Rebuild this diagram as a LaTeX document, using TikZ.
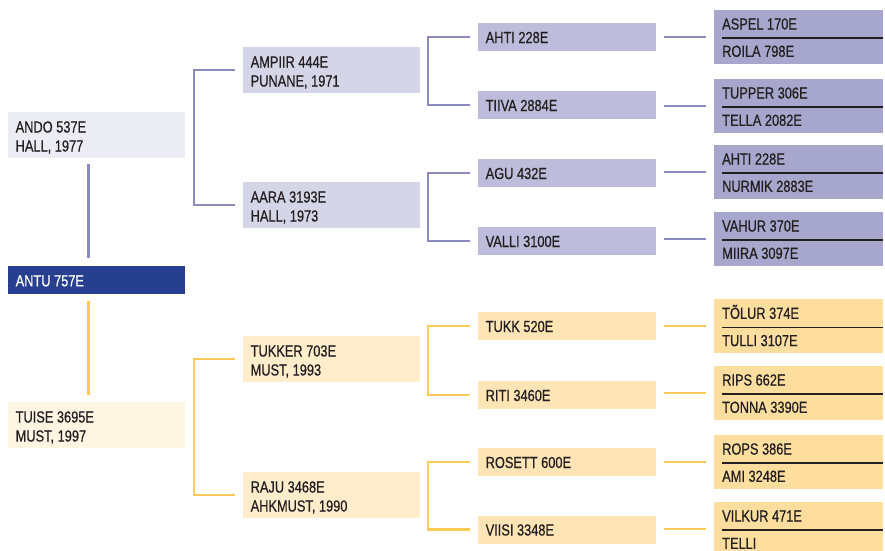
\documentclass[tikz,border=0pt]{standalone}
\usepackage{fontspec}
\setmainfont[FakeStretch=0.8,FakeBold=0.6]{Liberation Sans}
\definecolor{pA}{HTML}{ECECF4}
\definecolor{pB}{HTML}{D5D5E8}
\definecolor{pC}{HTML}{BDBDDB}
\definecolor{pD}{HTML}{A7A7CD}
\definecolor{dkb}{HTML}{263F8E}
\definecolor{pln}{HTML}{8B8BC1}
\definecolor{yA}{HTML}{FFF5E3}
\definecolor{yB}{HTML}{FFEDCC}
\definecolor{yC}{HTML}{FFE5B5}
\definecolor{yD}{HTML}{FDDE9E}
\definecolor{yln}{HTML}{FDCB55}
\definecolor{txc}{HTML}{231F20}
\newcommand\mkbox[6]{\node[bx, fill=#2, minimum width=#5pt, minimum height=#6pt] (#1) at (#3,#4) {};}
\tikzset{
  bx/.style={draw=none, inner sep=0pt, outer sep=0pt, anchor=north west},
  txt/.style={anchor=base west, inner sep=0pt, text=txc, font=\fontsize{16}{19}\selectfont},
  wtxt/.style={txt, text=white},
  pl/.style={draw=pln, line width=2.4pt},
  yl/.style={draw=yln, line width=2.4pt},
  divl/.style={draw=txc, line width=1.2pt}
}
\begin{document}
\begin{tikzpicture}[x=1pt,y=-1pt]
\useasboundingbox (0,0) rectangle (885,550);
\clip (0,0) rectangle (885,550);
% column 1
\mkbox{ando}{pA}{8}{112}{177}{46}
\mkbox{antu}{dkb}{8}{266}{177}{27.5}
\mkbox{tuise}{yA}{8}{402}{177}{46}
\node[txt] (ando1) at ([shift={(7.5,20.5)}]ando.north west) {ANDO 537E};
\node[txt] (ando2) at ([shift={(7.5,39.5)}]ando.north west) {HALL, 1977};
\node[wtxt] (antu1) at ([shift={(7.5,20.3)}]antu.north west) {ANTU 757E};
\node[txt] (tuise1) at ([shift={(7.5,20.5)}]tuise.north west) {TUISE 3695E};
\node[txt] (tuise2) at ([shift={(7.5,39.5)}]tuise.north west) {MUST, 1997};
% column 2
\mkbox{ampiir}{pB}{243}{47}{177}{46}
\mkbox{aara}{pB}{243}{182}{177}{46}
\mkbox{tukker}{yB}{243}{336}{177}{46}
\mkbox{raju}{yB}{243}{472}{177}{46}
\node[txt] (ampiir1) at ([shift={(7.5,20.5)}]ampiir.north west) {AMPIIR 444E};
\node[txt] (ampiir2) at ([shift={(7.5,39.5)}]ampiir.north west) {PUNANE, 1971};
\node[txt] (aara1) at ([shift={(7.5,20.5)}]aara.north west) {AARA 3193E};
\node[txt] (aara2) at ([shift={(7.5,39.5)}]aara.north west) {HALL, 1973};
\node[txt] (tukker1) at ([shift={(7.5,20.5)}]tukker.north west) {TUKKER 703E};
\node[txt] (tukker2) at ([shift={(7.5,39.5)}]tukker.north west) {MUST, 1993};
\node[txt] (raju1) at ([shift={(7.5,20.5)}]raju.north west) {RAJU 3468E};
\node[txt] (raju2) at ([shift={(7.5,39.5)}]raju.north west) {AHKMUST, 1990};
% column 3
\mkbox{ahti}{pC}{478}{23}{178}{28}
\mkbox{tiiva}{pC}{478}{91}{178}{28}
\mkbox{agu}{pC}{478}{159}{178}{28}
\mkbox{valli}{pC}{478}{227}{178}{28}
\mkbox{tukk}{yC}{478}{312}{178}{28}
\mkbox{riti}{yC}{478}{381}{178}{28}
\mkbox{rosett}{yC}{478}{448}{178}{28}
\mkbox{viisi}{yC}{478}{515.5}{178}{28}
\node[txt] (ahti1) at ([shift={(7.5,20)}]ahti.north west) {AHTI 228E};
\node[txt] (tiiva1) at ([shift={(7.5,20)}]tiiva.north west) {TIIVA 2884E};
\node[txt] (agu1) at ([shift={(7.5,20)}]agu.north west) {AGU 432E};
\node[txt] (valli1) at ([shift={(7.5,20)}]valli.north west) {VALLI 3100E};
\node[txt] (tukk1) at ([shift={(7.5,20)}]tukk.north west) {TUKK 520E};
\node[txt] (riti1) at ([shift={(7.5,20)}]riti.north west) {RITI 3460E};
\node[txt] (rosett1) at ([shift={(7.5,20)}]rosett.north west) {ROSETT 600E};
\node[txt] (viisi1) at ([shift={(7.5,20)}]viisi.north west) {VIISI 3348E};
% column 4
\mkbox{aspel}{pD}{714}{10}{169}{53.5}
\mkbox{tupper}{pD}{714}{79}{169}{53.5}
\mkbox{ahtib}{pD}{714}{145}{169}{53.5}
\mkbox{vahur}{pD}{714}{212}{169}{53.5}
\mkbox{tolur}{yD}{714}{299.3}{169}{53.5}
\mkbox{rips}{yD}{714}{366}{169}{53.5}
\mkbox{rops}{yD}{714}{435}{169}{53.5}
\mkbox{vilkur}{yD}{714}{502}{169}{53.5}
\foreach \n/\a/\b in {aspel/ASPEL 170E/ROILA 798E, tupper/TUPPER 306E/TELLA 2082E,
  ahtib/AHTI 228E/NURMIK 2883E, vahur/VAHUR 370E/MIIRA 3097E,
  tolur/TÕLUR 374E/TULLI 3107E, rips/RIPS 662E/TONNA 3390E,
  rops/ROPS 386E/AMI 3248E, vilkur/VILKUR 471E/TELLI}{
  \node[txt] (\n-a) at ([shift={(8,19.5)}]\n.north west) {\a};
  \node[txt] (\n-b) at ([shift={(8,46.8)}]\n.north west) {\b};
  \draw[divl] ([shift={(8,28)}]\n.north west) -- ([shift={(0,28)}]\n.north east);
}
% connectors: column 1
\draw[pl] ([shift={(80.5,6)}]ando.south west) -- ([shift={(80.5,-8)}]antu.north west);
\draw[yl] ([shift={(80.5,7)}]antu.south west) -- ([shift={(80.5,-7)}]tuise.north west);
% column 1 -> 2 brackets
\draw[pl] ([xshift=-8pt]ampiir.west) -- ++(-41,0) |- ([xshift=-8pt]aara.west);
\draw[yl] ([xshift=-8pt]tukker.west) -- ++(-41,0) |- ([xshift=-8pt]raju.west);
% column 2 -> 3 brackets
\draw[pl] ([xshift=-8pt]ahti.west) -- ++(-42,0) |- ([xshift=-8pt]tiiva.west);
\draw[pl] ([xshift=-8pt]agu.west) -- ++(-42,0) |- ([xshift=-8pt]valli.west);
\draw[yl] ([xshift=-8pt]tukk.west) -- ++(-42,0) |- ([xshift=-8pt]riti.west);
\draw[yl] ([xshift=-8pt]rosett.west) -- ++(-42,0) |- ([xshift=-8pt]viisi.west);
% column 3 -> 4
\foreach \s/\t/\c in {ahti/aspel/pl, tiiva/tupper/pl, agu/ahtib/pl, valli/vahur/pl,
  tukk/tolur/yl, riti/rips/yl, rosett/rops/yl, viisi/vilkur/yl}{
  \draw[\c] ([xshift=8pt]\s.east |- \t.west) -- ([xshift=-8pt]\t.west);
}
\end{tikzpicture}
\end{document}
